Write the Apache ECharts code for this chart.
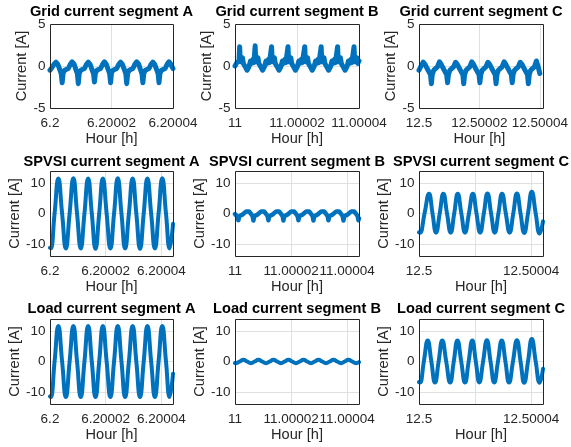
<!DOCTYPE html>
<html>
<head>
<meta charset="utf-8">
<script src="https://cdn.jsdelivr.net/npm/echarts@6/dist/echarts.min.js"></script>
<style>
  html, body { margin: 0; padding: 0; background: #fff; }
  #chart { width: 571px; height: 447px; }
</style>
</head>
<body>
<div id="chart"></div>
<script>
// Time values are offsets from the segment start, in micro-hours (1e-6 h).
// Currents are in amperes.

// Tick labels for the hour axis of each segment (ticks every 20 micro-hours)
const ticksSegA = ['6.2', '6.20002', '6.20004'];
const ticksSegB = ['11', '11.00002', '11.00004'];
const ticksSegC = ['12.5', '12.50002', '12.50004'];
const ticksSegCShort = ['12.5', '', '12.50004'];

// ---- Grid current ----
const gridA_t = [0, 0.6, 1.3, 1.95, 2.55, 3.15, 3.65, 3.95, 4.25, 4.75, 5.35, 5.95, 6.6,
  7.2, 7.8, 8.4, 8.9, 9.2, 9.5, 10.0, 10.6, 11.2, 11.85,
  12.45, 13.05, 13.65, 14.15, 14.45, 14.75, 15.25, 15.85, 16.45, 17.1,
  17.7, 18.3, 18.9, 19.4, 19.7, 20.0, 20.5, 21.1, 21.7, 22.35,
  22.95, 23.55, 24.15, 24.65, 24.95, 25.25, 25.75, 26.35, 26.95, 27.6,
  28.2, 28.8, 29.4, 29.9, 30.2, 30.5, 31.0, 31.6, 32.2, 32.85,
  33.45, 34.05, 34.65, 35.15, 35.45, 35.75, 36.25, 36.85, 37.45, 38.1,
  38.7, 39.3, 40];
const gridA_i = [-0.5, -0.2, 0.2, 0.45, 0.2, -0.4, -0.9, -2.0, -0.9, -0.5, -0.7, -0.3, 0.2,
  0.5, 0.25, -0.4, -0.9, -2.1, -0.9, -0.5, -0.7, -0.3, 0.2,
  0.45, 0.2, -0.45, -0.9, -1.9, -0.9, -0.5, -0.7, -0.3, 0.2,
  0.5, 0.2, -0.4, -0.9, -2.0, -0.8, -0.5, -0.7, -0.3, 0.2,
  0.45, 0.2, -0.4, -0.9, -2.1, -0.9, -0.5, -0.7, -0.3, 0.2,
  0.5, 0.25, -0.4, -0.9, -2.0, -0.9, -0.5, -0.7, -0.3, 0.2,
  0.45, 0.2, -0.4, -0.9, -2.0, -0.9, -0.5, -0.7, -0.3, 0.2,
  0.5, 0.2, -0.3];

const gridB_t = [0, 0.6, 1.0, 1.3, 1.5, 1.7, 2.1, 2.4, 2.7, 3.3, 3.9, 4.5, 5.0, 5.3, 5.8, 6.1,
  6.3, 6.5, 6.7, 7.1, 7.4, 7.7, 8.3, 8.9, 9.5, 10.0, 10.3, 10.8, 11.1,
  11.6, 11.8, 12.0, 12.4, 12.7, 13.0, 13.6, 14.2, 14.8, 15.3, 15.6, 16.1, 16.4,
  16.9, 17.1, 17.3, 17.7, 18.0, 18.3, 18.9, 19.5, 20.1, 20.6, 20.9, 21.4, 21.7,
  22.3, 22.5, 22.7, 23.1, 23.4, 23.7, 24.3, 24.9, 25.5, 26.0, 26.3, 26.8, 27.1,
  27.6, 27.8, 28.0, 28.4, 28.7, 29.0, 29.6, 30.2, 30.8, 31.3, 31.6, 32.1, 32.4,
  32.9, 33.1, 33.3, 33.7, 34.0, 34.3, 34.9, 35.5, 36.1, 36.6, 36.9, 37.4, 37.7,
  38.2, 38.4, 38.6, 39.0, 39.3, 39.6, 40];
const gridB_i = [0.0, 0.4, 0.2, 0.6, 2.3, 0.5, 0.3, 1.0, 0.3, -0.1, -0.5, -0.1, 0.6, 0.3, 0.8, 0.4,
  0.6, 2.4, 0.5, 0.3, 1.0, 0.3, -0.1, -0.5, -0.1, 0.6, 0.3, 0.8, 0.4,
  0.6, 2.3, 0.5, 0.3, 1.0, 0.3, -0.1, -0.5, -0.1, 0.6, 0.3, 0.8, 0.4,
  0.6, 2.3, 0.5, 0.3, 1.0, 0.3, -0.1, -0.5, -0.1, 0.6, 0.3, 0.8, 0.4,
  0.6, 2.3, 0.5, 0.3, 1.0, 0.3, -0.1, -0.5, -0.1, 0.6, 0.3, 0.8, 0.4,
  0.6, 2.3, 0.5, 0.3, 1.0, 0.3, -0.1, -0.5, -0.1, 0.6, 0.3, 0.8, 0.4,
  0.6, 2.3, 0.5, 0.3, 1.0, 0.3, -0.1, -0.5, -0.1, 0.6, 0.3, 0.8, 0.4,
  0.6, 2.3, 0.5, 0.3, 1.0, 0.3, 0.6];

const gridC_t = [0, 0.7, 1.4, 2.0, 2.7, 3.3, 3.8, 4.1, 4.4, 4.9, 5.5, 6.1,
  6.75, 7.35, 8.05, 8.65, 9.15, 9.45, 9.75, 10.25, 10.85, 11.45,
  12.1, 12.7, 13.4, 14.0, 14.5, 14.8, 15.1, 15.6, 16.2, 16.8,
  17.45, 18.05, 18.75, 19.35, 19.85, 20.15, 20.45, 20.95, 21.55, 22.15,
  22.8, 23.4, 24.1, 24.7, 25.2, 25.5, 25.8, 26.3, 26.9, 27.5,
  28.15, 28.75, 29.45, 30.05, 30.55, 30.85, 31.15, 31.65, 32.25, 32.85,
  33.5, 34.1, 34.8, 35.4, 35.9, 36.2, 36.5, 37.0, 37.6, 38.2,
  38.85, 39.45, 40];
const gridC_i = [-0.5, 0.0, 0.45, 0.2, -0.3, -0.7, -1.0, -2.1, -1.0, -0.5, -0.7, -0.1,
  0.5, 0.2, -0.3, -0.7, -1.0, -2.0, -1.0, -0.5, -0.7, -0.1,
  0.45, 0.2, -0.3, -0.7, -1.0, -2.1, -1.0, -0.5, -0.7, -0.1,
  0.5, 0.2, -0.3, -0.7, -1.0, -2.0, -1.0, -0.5, -0.7, -0.1,
  0.45, 0.2, -0.3, -0.7, -1.0, -2.1, -1.0, -0.5, -0.7, -0.1,
  0.5, 0.2, -0.3, -0.7, -1.0, -2.0, -1.0, -0.5, -0.7, -0.1,
  0.45, 0.2, -0.3, -0.7, -1.0, -2.1, -1.0, -0.5, -0.7, -0.1,
  0.6, -0.1, -0.9];

// ---- SPVSI current ----
const spvsiA_t = [0, 0.3, 1.65, 3.0, 4.35, 5.7, 7.05, 8.4, 9.72, 11.05, 12.38, 13.7, 15.02, 16.35,
  17.68, 19.0, 20.35, 21.7, 23.02, 24.35, 25.68, 27.0, 28.35, 29.7, 31.02, 32.35,
  33.68, 35.0, 36.35, 37.7, 39.02, 40.35, 41.68, 43.0, 44.2];
const spvsiA_i = [-11.3, -11.5, 0, 11.5, 0, -11.5, 0, 11.6, 0, -11.5, 0, 11.5, 0, -11.6,
  0, 11.5, 0, -11.5, 0, 11.6, 0, -11.5, 0, 11.5, 0, -11.6,
  0, 11.5, 0, -11.5, 0, 11.6, 0, -11.5, -3.4];

const spvsiB_t = [0, 0.4, 0.9, 1.2, 1.5, 2.0, 2.7, 3.4, 4.0, 4.5, 5.0, 5.6, 6.0, 6.3,
  6.55, 6.85, 7.35, 8.05, 8.75, 9.35, 9.85, 10.35, 10.95, 11.35, 11.65,
  11.9, 12.2, 12.7, 13.4, 14.1, 14.7, 15.2, 15.7, 16.3, 16.7, 17.0,
  17.25, 17.55, 18.05, 18.75, 19.45, 20.05, 20.55, 21.05, 21.65, 22.05, 22.35,
  22.6, 22.9, 23.4, 24.1, 24.8, 25.4, 25.9, 26.4, 27.0, 27.4, 27.7,
  27.95, 28.25, 28.75, 29.45, 30.15, 30.75, 31.25, 31.75, 32.35, 32.75, 33.05,
  33.3, 33.6, 34.1, 34.8, 35.5, 36.1, 36.6, 37.1, 37.7, 38.1, 38.4,
  38.65, 38.95, 39.45, 40.15, 40.85, 41.45, 41.95, 42.45, 43.05, 43.45, 43.75,
  44.0, 44.2];
const spvsiB_i = [-0.2, -0.6, -1.0, -2.2, -0.9, -0.6, -0.3, 0.1, 0.7, 0.4, 0.7, 0.0, -0.6, -0.9,
  -2.3, -0.9, -0.6, -0.3, 0.1, 0.7, 0.4, 0.7, 0.0, -0.6, -0.9,
  -2.2, -0.9, -0.6, -0.3, 0.1, 0.7, 0.4, 0.7, 0.0, -0.6, -0.9,
  -2.3, -0.9, -0.6, -0.3, 0.1, 0.7, 0.4, 0.7, 0.0, -0.6, -0.9,
  -2.2, -0.9, -0.6, -0.3, 0.1, 0.7, 0.4, 0.7, 0.0, -0.6, -0.9,
  -2.3, -0.9, -0.6, -0.3, 0.1, 0.7, 0.4, 0.7, 0.0, -0.6, -0.9,
  -2.2, -0.9, -0.6, -0.3, 0.1, 0.7, 0.4, 0.7, 0.0, -0.6, -0.9,
  -2.3, -0.9, -0.6, -0.3, 0.1, 0.7, 0.4, 0.7, 0.0, -0.6, -0.9,
  -2.2, -1.6];

const spvsiC_t = [0, 0.36, 1.97, 3.57, 4.82, 6.07, 7.38, 8.68, 9.99, 11.3, 12.55, 13.8, 15.1, 16.4,
  17.8, 19.2, 20.5, 21.8, 23.1, 24.4, 25.7, 27.0, 28.3, 29.6, 30.95, 32.3,
  33.6, 34.9, 36.2, 37.5, 38.85, 40.2, 41.6, 43.0, 44.2];
const spvsiC_i = [-6.2, -6.3, 0, 6.5, 0, -6.3, 0, 6.5, 0, -6.3, 0, 6.5, 0, -6.3,
  0, 6.5, 0, -6.3, 0, 6.6, 0, -6.3, 0, 6.5, 0, -6.3,
  0, 6.6, 0, -6.4, 0, 7.2, 0, -6.6, -2.6];

// ---- Load current ----
const loadA_t = [0, 0.3, 1.65, 3.0, 4.35, 5.7, 7.05, 8.4, 9.72, 11.05, 12.38, 13.7, 15.02, 16.35,
  17.68, 19.0, 20.35, 21.7, 23.02, 24.35, 25.68, 27.0, 28.35, 29.7, 31.02, 32.35,
  33.68, 35.0, 36.35, 37.7, 39.02, 40.35, 41.68, 43.0, 44.2];
const loadA_i = [-11.5, -11.7, 0, 11.7, 0, -11.7, 0, 11.7, 0, -11.7, 0, 11.7, 0, -11.7,
  0, 11.7, 0, -11.7, 0, 11.7, 0, -11.7, 0, 11.7, 0, -11.7,
  0, 11.7, 0, -11.7, 0, 11.7, 0, -11.7, -4.0];

const loadB_t = [0, 0.33, 1.66, 3.0, 4.34, 5.68, 7.0, 8.35, 9.7, 11.03, 12.36, 13.7, 15.04, 16.38,
  17.7, 19.05, 20.4, 21.73, 23.06, 24.4, 25.74, 27.08, 28.4, 29.75, 31.1, 32.43,
  33.76, 35.1, 36.44, 37.78, 39.1, 40.45, 41.8, 43.13, 44.2];
const loadB_i = [-0.5, -0.55, 0, 0.55, 0, -0.55, 0, 0.55, 0, -0.55, 0, 0.55, 0, -0.55,
  0, 0.55, 0, -0.55, 0, 0.55, 0, -0.55, 0, 0.55, 0, -0.55,
  0, 0.55, 0, -0.55, 0, 0.55, 0, -0.55, -0.2];

const loadC_t = [0, 0.36, 1.73, 3.1, 4.4, 5.7, 7.0, 8.3, 9.7, 11.1, 12.4, 13.7, 15.05, 16.4,
  17.7, 19.0, 20.25, 21.5, 22.85, 24.2, 25.5, 26.8, 28.15, 29.5, 30.8, 32.1,
  33.5, 34.9, 36.2, 37.5, 38.85, 40.2, 41.6, 43.0, 44.2];
const loadC_i = [-6.8, -6.9, 0, 6.9, 0, -6.9, 0, 6.9, 0, -6.9, 0, 6.9, 0, -6.9,
  0, 6.9, 0, -6.9, 0, 7.0, 0, -6.9, 0, 6.9, 0, -6.9,
  0, 7.0, 0, -7.0, 0, 7.4, 0, -7.0, -2.4];

// ---- Panel layout (3 x 3) ----
// lw: stroke width; noisy switching waveforms are drawn as a wider band
const panels = [
  { title: 'Grid current segment A',  t: gridA_t,  i: gridA_i,  ticks: ticksSegA, row: 0, col: 0, smooth: false, lw: 5 },
  { title: 'Grid current segment B',  t: gridB_t,  i: gridB_i,  ticks: ticksSegB, row: 0, col: 1, smooth: false, lw: 5 },
  { title: 'Grid current segment C',  t: gridC_t,  i: gridC_i,  ticks: ticksSegC, row: 0, col: 2, smooth: false, lw: 5 },
  { title: 'SPVSI current segment A', t: spvsiA_t, i: spvsiA_i, ticks: ticksSegA, row: 1, col: 0, smooth: true,  lw: 4 },
  { title: 'SPVSI current segment B', t: spvsiB_t, i: spvsiB_i, ticks: ticksSegB, row: 1, col: 1, smooth: false, lw: 4.5 },
  { title: 'SPVSI current segment C', t: spvsiC_t, i: spvsiC_i, ticks: ticksSegCShort, row: 1, col: 2, smooth: true, lw: 4 },
  { title: 'Load current segment A',  t: loadA_t,  i: loadA_i,  ticks: ticksSegA, row: 2, col: 0, smooth: true,  lw: 4 },
  { title: 'Load current segment B',  t: loadB_t,  i: loadB_i,  ticks: ticksSegB, row: 2, col: 1, smooth: true,  lw: 4 },
  { title: 'Load current segment C',  t: loadC_t,  i: loadC_i,  ticks: ticksSegCShort, row: 2, col: 2, smooth: true, lw: 4 }
];

const colLeft = [50, 235, 419];
const colWidth = [123, 124, 124];
const rowTop = [24, 171, 319];
const rowHeight = [84, 85, 85];
const titleY = [12, 161.5, 308.5];

const FONT = '"Liberation Sans", Arial, Helvetica, sans-serif';
const INK = '#262626';
const LINE = '#0072BD';
const GRIDLINE = '#e0e0e0';

const chart = echarts.init(document.getElementById('chart'), null, { renderer: 'canvas' });

// Axes box outlines, drawn above the grid lines
const boxes = panels.map(p => ({
  type: 'rect',
  z: 100,
  silent: true,
  shape: {
    x: colLeft[p.col] + 0.5, y: rowTop[p.row] + 0.5,
    width: colWidth[p.col], height: rowHeight[p.row]
  },
  style: { fill: 'none', stroke: INK, lineWidth: 1 }
}));

const titles = panels.map(p => ({
  type: 'text',
  z: 100,
  x: colLeft[p.col] + colWidth[p.col] / 2,
  y: titleY[p.row],
  style: {
    text: p.title,
    font: 'bold 14.6px ' + FONT,
    fill: '#000000',
    align: 'center',
    verticalAlign: 'middle'
  }
}));

const option = {
  animation: false,
  backgroundColor: '#ffffff',
  grid: panels.map(p => ({
    left: colLeft[p.col], top: rowTop[p.row],
    width: colWidth[p.col], height: rowHeight[p.row],
    show: false
  })),
  xAxis: panels.map((p, k) => ({
    type: 'value', gridIndex: k,
    min: 0, max: p.row === 0 ? 40 : 44.2, interval: 20,
    axisLine: { show: false }, axisTick: { show: false },
    splitLine: { show: true, lineStyle: { color: GRIDLINE, width: 1 } },
    axisLabel: {
      margin: 8.5, color: INK, fontSize: 13.5, fontFamily: FONT,
      showMaxLabel: p.row === 0,
      formatter: v => {
        const idx = Math.round(v / 20);
        return Math.abs(v - idx * 20) < 1e-6 && p.ticks[idx] !== undefined ? p.ticks[idx] : '';
      }
    },
    name: 'Hour [h]', nameLocation: 'middle', nameGap: 21,
    nameTextStyle: { color: INK, fontSize: 14.6, fontFamily: FONT }
  })),
  yAxis: panels.map((p, k) => {
    const base = {
      type: 'value', gridIndex: k,
      axisLine: { show: false }, axisTick: { show: false },
      splitLine: { show: true, lineStyle: { color: GRIDLINE, width: 1 } },
      name: 'Current [A]', nameLocation: 'middle', nameRotate: 90,
      nameGap: p.row === 0 ? 16 : 19.5,
      nameTextStyle: { color: INK, fontSize: 14.6, fontFamily: FONT }
    };
    if (p.row === 0) {
      return Object.assign(base, {
        min: -5, max: 5, interval: 5,
        axisLabel: { margin: 4.5, color: INK, fontSize: 13.5, fontFamily: FONT }
      });
    }
    return Object.assign(base, {
      min: -14, max: 14, splitNumber: 2,
      axisLabel: { margin: 4.5, color: INK, fontSize: 13.5, fontFamily: FONT,
                   showMinLabel: false, showMaxLabel: false }
    });
  }),
  series: panels.map((p, k) => ({
    type: 'line', xAxisIndex: k, yAxisIndex: k,
    data: p.t.map((x, j) => [x, p.i[j]]),
    showSymbol: false, symbol: 'none',
    smooth: p.smooth ? 0.5 : false,
    clip: true,
    lineStyle: { color: LINE, width: p.lw, join: 'round', cap: 'round' },
    z: 3
  })),
  graphic: boxes.concat(titles)
};

chart.setOption(option);
</script>
</body>
</html>
